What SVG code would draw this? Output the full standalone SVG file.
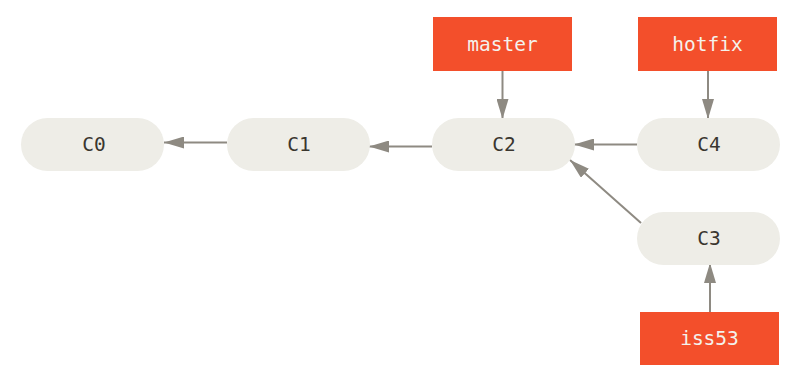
<svg xmlns="http://www.w3.org/2000/svg" width="800" height="383" viewBox="0 0 800 383">
<defs>
<marker id="ah" viewBox="0 0 20 12" refX="20" refY="6" markerWidth="20" markerHeight="12" markerUnits="userSpaceOnUse" orient="auto">
<path d="M0,0 L20,6 L0,12 Z" fill="#8e8a82"/>
</marker>
<style>
.commit{fill:#eeede7;}
.branch{fill:#f34f2b;}
.ct{font-family:"DejaVu Sans Mono","Liberation Mono",monospace;font-size:19.5px;fill:#3a362f;text-anchor:middle;dominant-baseline:central;}
.bt{font-family:"DejaVu Sans Mono","Liberation Mono",monospace;font-size:19.5px;fill:#f4f2ec;text-anchor:middle;dominant-baseline:central;}
.edge{stroke:#8e8a82;stroke-width:2;fill:none;marker-end:url(#ah);}
</style>
</defs>
<rect width="800" height="383" fill="#ffffff"/>
<g id="connectors">
<line class="edge" x1="227" y1="142.5" x2="164" y2="142.5"/>
<line class="edge" x1="432" y1="146.5" x2="369" y2="146.5"/>
<line class="edge" x1="637" y1="144.5" x2="574" y2="144.5"/>
<line class="edge" x1="641" y1="223" x2="570" y2="160"/>
<line class="edge" x1="502.5" y1="71" x2="502.5" y2="119"/>
<line class="edge" x1="708" y1="71" x2="708" y2="119"/>
<line class="edge" x1="710" y1="312" x2="710" y2="263"/>
</g>
<g id="C0"><rect class="commit" x="21" y="118" width="143" height="53" rx="26.5"/><text class="ct" x="94" y="144.5">C0</text></g>
<g id="C1"><rect class="commit" x="227" y="118" width="143" height="53" rx="26.5"/><text class="ct" x="299" y="144.5">C1</text></g>
<g id="C2"><rect class="commit" x="432" y="118" width="143" height="53" rx="26.5"/><text class="ct" x="504" y="144.5">C2</text></g>
<g id="C4"><rect class="commit" x="637" y="118" width="143" height="53" rx="26.5"/><text class="ct" x="709" y="144.5">C4</text></g>
<g id="C3"><rect class="commit" x="637" y="212" width="143" height="53" rx="26.5"/><text class="ct" x="709" y="238.5">C3</text></g>
<g id="master"><rect class="branch" x="433" y="17" width="139" height="54"/><text class="bt" x="502.5" y="44">master</text></g>
<g id="hotfix"><rect class="branch" x="638" y="17" width="139" height="54"/><text class="bt" x="707.5" y="44">hotfix</text></g>
<g id="iss53"><rect class="branch" x="640" y="312" width="139" height="53"/><text class="bt" x="709.5" y="338.5">iss53</text></g>
</svg>
